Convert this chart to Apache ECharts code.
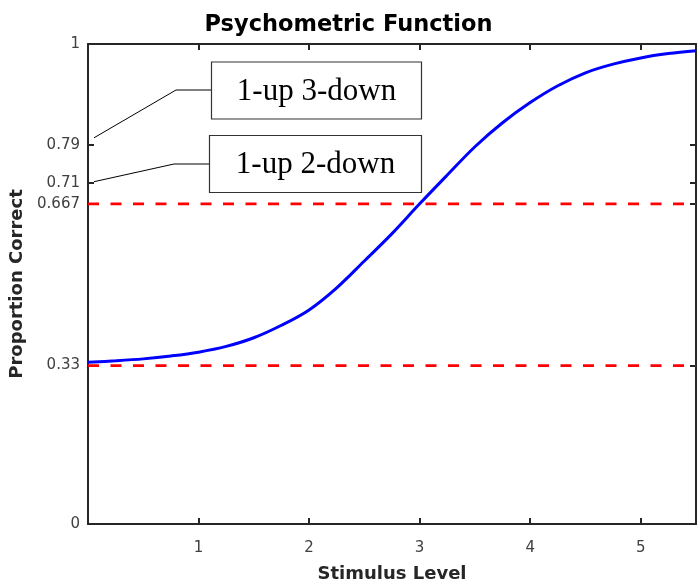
<!DOCTYPE html>
<html>
<head>
<meta charset="utf-8">
<title>Psychometric Function</title>
<script src="https://cdn.jsdelivr.net/npm/echarts@6/dist/echarts.min.js"></script>
<style>
  html, body { margin: 0; padding: 0; background: #ffffff; }
  #chart { width: 697px; height: 582px; }
</style>
</head>
<body>
<div id="chart"></div>
<script>
// Stimulus levels and the proportion correct of the psychometric curve
const stimulus = [0, 0.25, 0.5, 0.75, 1.0, 1.25, 1.5, 1.75, 2.0, 2.25, 2.5, 2.75,
                  3.0, 3.25, 3.5, 3.75, 4.0, 4.25, 4.5, 4.75, 5.0, 5.25, 5.5];
const proportion = [0.337, 0.340, 0.344, 0.350, 0.358, 0.370, 0.388, 0.414, 0.446, 0.492, 0.548, 0.605,
                    0.667, 0.727, 0.786, 0.836, 0.878, 0.913, 0.940, 0.958, 0.971, 0.980, 0.986];

// Horizontal reference levels (dashed red)
const referenceLevels = [0.667, 0.33];

// Axis ticks
const xTickValues = [1, 2, 3, 4, 5];
const yTickValues = [0, 0.33, 0.667, 0.71, 0.79, 1];
const yTickLabels = ['0', '0.33', '0.667', '0.71', '0.79', '1'];

// Staircase rule annotations
const ruleNames = ['1-up 3-down', '1-up 2-down'];

const xRange = [0, 5.5];
const axisColor = '#262626';
const sansFont = '"DejaVu Sans", sans-serif';
const serifFont = '"Liberation Serif", "Times New Roman", serif';

const chart = echarts.init(document.getElementById('chart'), null, { renderer: 'canvas' });

const curveData = stimulus.map((x, i) => [x, proportion[i]]);
const refSeries = referenceLevels.map(level => ({
  type: 'line',
  data: [[xRange[0], level], [xRange[1], level]],
  symbol: 'none',
  silent: true,
  z: 4,
  lineStyle: { color: '#ff0000', width: 2.6, type: [11, 11.5] }
}));

const baseTick = { show: true, inside: true, length: 6, lineStyle: { color: axisColor, width: 2 } };
const boxLine = { show: true, onZero: false, lineStyle: { color: axisColor, width: 2 } };

chart.setOption({
  animation: false,
  backgroundColor: '#ffffff',
  title: {
    text: 'Psychometric Function',
    left: 'center',
    top: 9,
    textStyle: { fontFamily: sansFont, fontWeight: 'bold', fontSize: 22.5, color: '#000000' }
  },
  grid: { left: 88, right: 1, top: 44, bottom: 58, containLabel: false, outerBoundsMode: 'none' },
  xAxis: [{
    type: 'value',
    min: xRange[0],
    max: xRange[1],
    position: 'bottom',
    name: 'Stimulus Level',
    nameLocation: 'middle',
    nameGap: 41,
    nameTextStyle: { fontFamily: sansFont, fontWeight: 'bold', fontSize: 18, color: axisColor },
    axisLine: boxLine,
    axisTick: Object.assign({ customValues: xTickValues }, baseTick),
    axisLabel: {
      customValues: xTickValues,
      margin: 17,
      fontFamily: sansFont,
      fontSize: 15,
      color: '#404040',
      formatter: v => String(v)
    },
    splitLine: { show: false }
  }, {
    type: 'value',
    min: xRange[0],
    max: xRange[1],
    position: 'top',
    axisLine: boxLine,
    axisTick: Object.assign({ customValues: xTickValues }, baseTick),
    axisLabel: { show: false },
    splitLine: { show: false }
  }],
  yAxis: [{
    type: 'value',
    min: 0,
    max: 1,
    position: 'left',
    name: 'Proportion Correct',
    nameLocation: 'middle',
    nameRotate: 90,
    nameGap: 53,
    nameTextStyle: { fontFamily: sansFont, fontWeight: 'bold', fontSize: 18, color: axisColor },
    axisLine: boxLine,
    axisTick: Object.assign({ customValues: yTickValues }, baseTick),
    axisLabel: {
      customValues: yTickValues,
      margin: 8,
      fontFamily: sansFont,
      fontSize: 15,
      color: '#404040',
      hideOverlap: false,
      formatter: v => yTickLabels[yTickValues.indexOf(v)] ?? String(v)
    },
    splitLine: { show: false }
  }, {
    type: 'value',
    min: 0,
    max: 1,
    position: 'right',
    axisLine: boxLine,
    axisTick: Object.assign({ customValues: yTickValues }, baseTick),
    axisLabel: { show: false },
    splitLine: { show: false }
  }],
  series: [{
    type: 'line',
    data: curveData,
    symbol: 'none',
    smooth: 0.35,
    z: 3,
    lineStyle: { color: '#0000ff', width: 3 }
  }].concat(refSeries)
});

// Annotation boxes with leader lines pointing to the 0.79 and 0.71 ticks
const boxes = [
  { text: ruleNames[0], x: 211.5, y: 62, w: 210, h: 57, knee: [176, 90], tick: yTickValues[4], lift: 7 },
  { text: ruleNames[1], x: 209.5, y: 135.5, w: 212, h: 57, knee: [174, 164], tick: yTickValues[3], lift: 1.5 }
];

const graphics = [];
boxes.forEach(b => {
  const start = chart.convertToPixel({ xAxisIndex: 0, yAxisIndex: 0 }, [0, b.tick]);
  const midY = b.y + b.h / 2;
  graphics.push({
    type: 'polyline',
    silent: true,
    z: 10,
    shape: { points: [[start[0] + 6, start[1] - b.lift], b.knee, [b.x, b.knee[1]]] },
    style: { stroke: '#000000', lineWidth: 1, fill: null }
  });
  graphics.push({
    type: 'rect',
    silent: true,
    z: 10,
    shape: { x: b.x, y: b.y, width: b.w, height: b.h },
    style: { fill: '#ffffff', stroke: '#333333', lineWidth: 1.2 }
  });
  graphics.push({
    type: 'text',
    silent: true,
    z: 11,
    x: b.x + b.w / 2,
    y: midY + 1,
    style: {
      text: b.text,
      font: '31px ' + serifFont,
      fill: '#000000',
      align: 'center',
      verticalAlign: 'middle'
    }
  });
});

chart.setOption({ graphic: graphics });
</script>
</body>
</html>
